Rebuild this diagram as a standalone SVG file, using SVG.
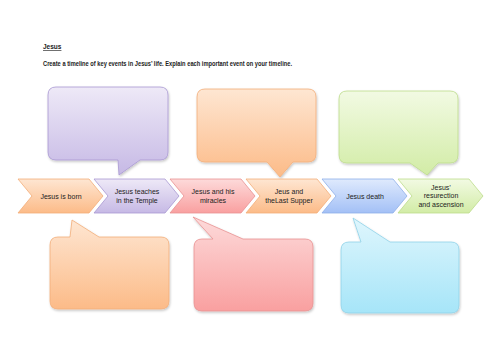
<svg xmlns="http://www.w3.org/2000/svg" width="500" height="354" viewBox="0 0 500 354">
<defs>
<linearGradient id="gOr" x1="0" y1="0" x2="0" y2="1"><stop offset="0" stop-color="#fee6d2"/><stop offset="1" stop-color="#fcbb88"/></linearGradient>
<linearGradient id="gPu" x1="0" y1="0" x2="0" y2="1"><stop offset="0" stop-color="#eee9f7"/><stop offset="1" stop-color="#c6b9e5"/></linearGradient>
<linearGradient id="gPk" x1="0" y1="0" x2="0" y2="1"><stop offset="0" stop-color="#fddada"/><stop offset="1" stop-color="#f9a0a0"/></linearGradient>
<linearGradient id="gBl" x1="0" y1="0" x2="0" y2="1"><stop offset="0" stop-color="#dfeafd"/><stop offset="1" stop-color="#a3c0f6"/></linearGradient>
<linearGradient id="gGr" x1="0" y1="0" x2="0" y2="1"><stop offset="0" stop-color="#f2fae3"/><stop offset="1" stop-color="#d2eca6"/></linearGradient>
<linearGradient id="gCy" x1="0" y1="0" x2="0" y2="1"><stop offset="0" stop-color="#dff6fd"/><stop offset="1" stop-color="#a6e5f8"/></linearGradient>
<filter id="sh" x="-10%" y="-10%" width="125%" height="130%"><feDropShadow dx="0.8" dy="1.5" stdDeviation="1" flood-color="#000" flood-opacity="0.22"/></filter>
</defs>
<style>
text{font-family:"Liberation Sans",Arial,sans-serif;fill:#222;}
.hd{font-size:6.5px;font-weight:bold;}
.lb{font-size:7px;text-anchor:middle;}
.call{filter:url(#sh);stroke-width:0.8;}
.chev{stroke-width:0.8;}
.or{fill:url(#gOr);stroke:#f3ad78;}
.pu{fill:url(#gPu);stroke:#a898d2;}
.pk{fill:url(#gPk);stroke:#e99292;}
.bl{fill:url(#gBl);stroke:#8eaee8;}
.gr{fill:url(#gGr);stroke:#bcdc8c;}
.cy{fill:url(#gCy);stroke:#8fd2e8;}
</style>
<text class="hd" x="43" y="49" text-decoration="underline">Jesus</text>
<text class="hd" x="43" y="66" textLength="249" lengthAdjust="spacingAndGlyphs">Create a timeline of key events in Jesus’ life. Explain each important event on your timeline.</text>

<g id="callout-top-1"><path class="call pu" d="M56,87 H160 Q168,87 168,95 V152 Q168,160 160,160 H140 L119,175 L118,160 H56 Q48,160 48,152 V95 Q48,87 56,87 Z"/></g>
<g id="callout-top-2"><path class="call or" d="M205,89 H308 Q316,89 316,97 V154 Q316,162 308,162 H293 L280,177 L267,162 H205 Q197,162 197,154 V97 Q197,89 205,89 Z"/></g>
<g id="callout-top-3"><path class="call gr" d="M347,91 H450 Q458,91 458,99 V155 Q458,163 450,163 H438 L427,175 L410,163 H347 Q339,163 339,155 V99 Q339,91 347,91 Z"/></g>

<g id="callout-bottom-1"><path class="call or" d="M58,237 H70 L72,220 L99,237 H161 Q169,237 169,245 V301 Q169,309 161,309 H58 Q50,309 50,301 V245 Q50,237 58,237 Z"/></g>
<g id="callout-bottom-2"><path class="call pk" d="M202,239 H213 L193,217 L243,239 H305 Q313,239 313,247 V303 Q313,311 305,311 H202 Q194,311 194,303 V247 Q194,239 202,239 Z"/></g>
<g id="callout-bottom-3"><path class="call cy" d="M349,242 H361 L353,218 L390,242 H451 Q459,242 459,250 V305 Q459,313 451,313 H349 Q341,313 341,305 V250 Q341,242 349,242 Z"/></g>

<g id="step1"><path class="chev or" d="M18,179 H89 L103,196 L89,213 H18 L32,196 Z"/><text class="lb" x="61" y="198.5">Jesus is born</text></g>
<g id="step2"><path class="chev pu" d="M94,179 H165 L179,196 L165,213 H94 L108,196 Z"/><text class="lb" x="137" y="194">Jesus teaches</text><text class="lb" x="137" y="203">in the Temple</text></g>
<g id="step3"><path class="chev pk" d="M170,179 H241 L255,196 L241,213 H170 L184,196 Z"/><text class="lb" x="213" y="194">Jesus and his</text><text class="lb" x="213" y="203">miracles</text></g>
<g id="step4"><path class="chev or" d="M246,179 H317 L331,196 L317,213 H246 L260,196 Z"/><text class="lb" x="289" y="194">Jeus and</text><text class="lb" x="289" y="203">theLast Supper</text></g>
<g id="step5"><path class="chev bl" d="M322,179 H393 L407,196 L393,213 H322 L336,196 Z"/><text class="lb" x="365" y="198.5">Jesus death</text></g>
<g id="step6"><path class="chev gr" d="M398,179 H469 L483,196 L469,213 H398 L412,196 Z"/><text class="lb" x="441" y="189.5">Jesus’</text><text class="lb" x="441" y="198">resurection</text><text class="lb" x="441" y="206.5">and ascension</text></g>
<g id="connectors"></g>
</svg>
